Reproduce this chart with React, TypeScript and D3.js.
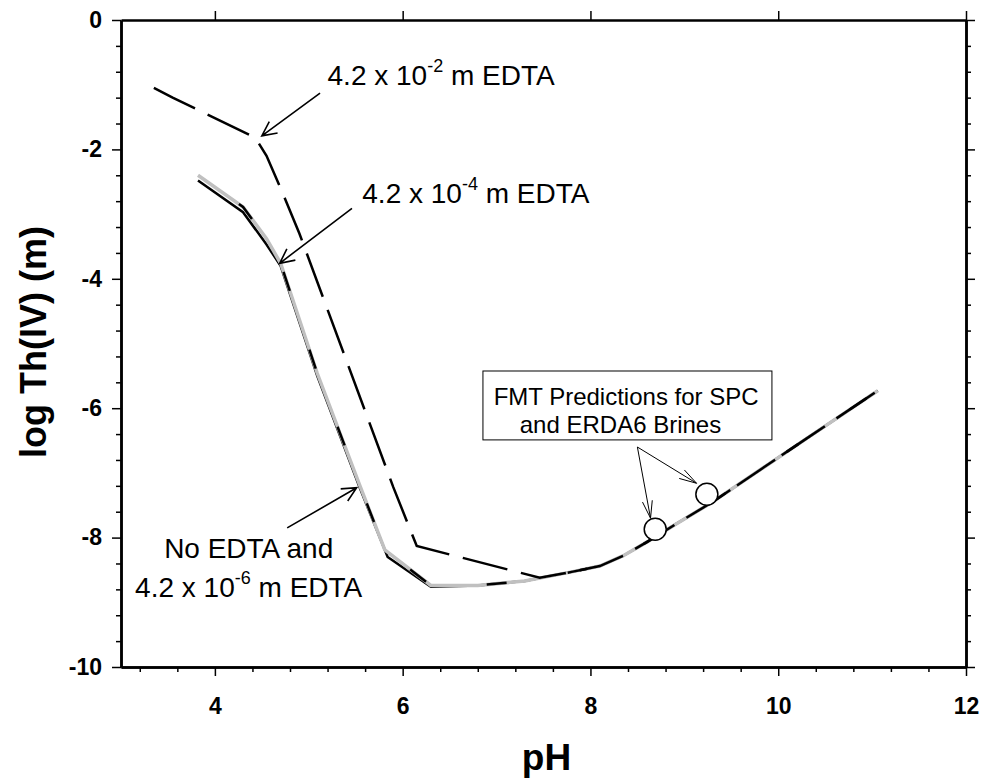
import { useEffect, useRef } from "react";
import * as d3 from "d3";

const W = 985;
const H = 780;

// No EDTA and 4.2e-6 m EDTA (grey solid + black short dash)
const phNoEdta = [3.82, 4.3, 4.55, 4.7, 5.09, 5.54, 5.81, 6.3, 6.8, 7.3, 7.8, 8.1, 8.35, 8.6, 8.9, 9.3, 10.3, 11.06];
const logNoEdta = [-2.4, -2.89, -3.38, -3.76, -5.46, -7.18, -8.19, -8.74, -8.74, -8.67, -8.53, -8.44, -8.28, -8.07, -7.8, -7.45, -6.47, -5.73];

// 4.2e-4 m EDTA (black solid)
const phEdta4 = [3.82, 4.3, 4.55, 4.7, 5.09, 5.54, 5.84, 6.3, 6.8, 7.3, 7.8, 8.1, 8.35, 8.6, 8.9, 9.3, 10.3, 11.06];
const logEdta4 = [-2.48, -2.97, -3.47, -3.8, -5.5, -7.22, -8.3, -8.76, -8.74, -8.67, -8.53, -8.44, -8.28, -8.07, -7.8, -7.45, -6.47, -5.73];

// 4.2e-2 m EDTA (black long dash)
const phEdta2 = [3.35, 3.55, 4.43, 4.55, 4.7, 4.9, 5.9, 6.15, 7.46, 7.8, 8.1, 8.35, 8.6, 8.9, 9.3, 10.3, 11.06];
const logEdta2 = [-1.05, -1.2, -1.82, -2.1, -2.6, -3.3, -7.22, -8.13, -8.62, -8.53, -8.44, -8.28, -8.07, -7.8, -7.45, -6.47, -5.73];

// FMT predictions
const phFmt = [8.69, 9.24];
const logFmt = [-7.87, -7.33];

const xTicks = [4, 6, 8, 10, 12];
const yTicks = [0, -2, -4, -6, -8, -10];

// arrows: [fromPH, fromLog, toPH, toLog]
const edtaArrows = [
  [5.12, -1.13, 4.5, -1.79],
  [5.46, -2.91, 4.69, -3.76],
  [4.77, -7.85, 5.51, -7.23],
];
const fmtArrows = [
  [8.5, -6.6, 8.64, -7.7],
  [8.5, -6.6, 9.13, -7.16],
];

function arrow(x1: number, y1: number, x2: number, y2: number, len: number, deg: number) {
  const a = Math.atan2(y2 - y1, x2 - x1);
  const t = (deg * Math.PI) / 180;
  const b1x = x2 - len * Math.cos(a - t), b1y = y2 - len * Math.sin(a - t);
  const b2x = x2 - len * Math.cos(a + t), b2y = y2 - len * Math.sin(a + t);
  return `M${x1},${y1}L${x2},${y2}M${b1x},${b1y}L${x2},${y2}L${b2x},${b2y}`;
}

export default function App() {
  const ref = useRef<SVGSVGElement>(null);

  useEffect(() => {
    if (!ref.current) return;
    const svg = d3.select(ref.current);
    svg.selectAll("*").remove();

    const margin = { top: 20, right: 19, bottom: 113, left: 121 };
    const x = d3.scaleLinear().domain([3, 12]).range([margin.left, W - margin.right]);
    const y = d3.scaleLinear().domain([-10, 0]).range([H - margin.bottom, margin.top]);

    const xMinor = d3.range(3.2, 12, 0.4).filter((v) => Math.abs(v / 2 - Math.round(v / 2)) > 0.01);
    const yMinor = d3.range(-9.6, 0, 0.4).filter((v) => Math.abs(v / 2 - Math.round(v / 2)) > 0.01);

    const font = "'Liberation Sans', Arial, sans-serif";
    const fmt = (d: any) => String(d);

    // axes
    const styleAxis = (g: any) => {
      g.select(".domain").attr("stroke-width", 2.5);
      g.selectAll(".tick line").attr("stroke-width", 1.5);
    };
    const yb = H - margin.bottom;
    const xr = W - margin.right;

    svg.append("g").attr("transform", `translate(0,${yb})`)
      .call(d3.axisBottom(x).tickValues(xMinor).tickSize(5).tickSizeOuter(0).tickFormat(() => ""))
      .call(styleAxis);
    const bx = svg.append("g").attr("transform", `translate(0,${yb})`)
      .call(d3.axisBottom(x).tickValues(xTicks).tickSize(9).tickSizeOuter(0).tickPadding(22).tickFormat(fmt))
      .call(styleAxis);
    bx.selectAll("text").attr("font-family", font).attr("font-weight", "bold").attr("font-size", 23).attr("fill", "#000");

    svg.append("g").attr("transform", `translate(0,${margin.top})`)
      .call(d3.axisTop(x).tickValues(xTicks).tickSize(9).tickSizeOuter(0).tickFormat(() => ""))
      .call(styleAxis);

    svg.append("g").attr("transform", `translate(${margin.left},0)`)
      .call(d3.axisLeft(y).tickValues(yMinor).tickSize(5).tickSizeOuter(0).tickFormat(() => ""))
      .call(styleAxis);
    const ly = svg.append("g").attr("transform", `translate(${margin.left},0)`)
      .call(d3.axisLeft(y).tickValues(yTicks).tickSize(9).tickSizeOuter(0).tickPadding(10).tickFormat(fmt))
      .call(styleAxis);
    ly.selectAll("text").attr("font-family", font).attr("font-weight", "bold").attr("font-size", 23).attr("fill", "#000");

    svg.append("g").attr("transform", `translate(${xr},0)`)
      .call(d3.axisRight(y).tickValues(yMinor).tickSize(5).tickSizeOuter(0).tickFormat(() => ""))
      .call(styleAxis);
    svg.append("g").attr("transform", `translate(${xr},0)`)
      .call(d3.axisRight(y).tickValues(yTicks).tickSize(9).tickSizeOuter(0).tickFormat(() => ""))
      .call(styleAxis);

    // axis titles
    svg.append("text")
      .attr("x", (margin.left + xr) / 2 + 3).attr("y", 770)
      .attr("text-anchor", "middle").attr("font-family", font).attr("font-weight", "bold")
      .attr("font-size", 37).text("pH");
    svg.append("text")
      .attr("transform", `translate(46,342) rotate(-90)`)
      .attr("text-anchor", "middle").attr("font-family", font).attr("font-weight", "bold")
      .attr("font-size", 36).text("log Th(IV) (m)");

    // curves
    const line = d3.line<[number, number]>().x((d) => x(d[0])).y((d) => y(d[1]));
    const pts = (px: number[], py: number[]) => px.map((v, i) => [v, py[i]] as [number, number]);

    svg.append("path").attr("d", line(pts(phEdta4, logEdta4)))
      .attr("fill", "none").attr("stroke", "#000").attr("stroke-width", 2.5);
    svg.append("path").attr("d", line(pts(phNoEdta, logNoEdta)))
      .attr("fill", "none").attr("stroke", "#c0c0c0").attr("stroke-width", 3.5);
    svg.append("path").attr("d", line(pts(phNoEdta, logNoEdta)))
      .attr("fill", "none").attr("stroke", "#000").attr("stroke-width", 2.5)
      .attr("stroke-dasharray", "20 62").attr("stroke-dashoffset", -50);
    svg.append("path").attr("d", line(pts(phEdta2, logEdta2)))
      .attr("fill", "none").attr("stroke", "#000").attr("stroke-width", 2.5)
      .attr("stroke-dasharray", "46 14");

    // arrows
    edtaArrows.forEach((a) => {
      svg.append("path").attr("d", arrow(x(a[0]), y(a[1]), x(a[2]), y(a[3]), 16, 26))
        .attr("fill", "none").attr("stroke", "#000").attr("stroke-width", 1.6);
    });
    fmtArrows.forEach((a) => {
      svg.append("path").attr("d", arrow(x(a[0]), y(a[1]), x(a[2]), y(a[3]), 18, 16))
        .attr("fill", "none").attr("stroke", "#000").attr("stroke-width", 1);
    });

    // FMT points
    svg.selectAll("circle.fmt").data(phFmt).join("circle")
      .attr("class", "fmt")
      .attr("cx", (d) => x(d)).attr("cy", (_d, i) => y(logFmt[i])).attr("r", 11)
      .attr("fill", "#fff").attr("stroke", "#000").attr("stroke-width", 1.5);

    // labels
    const label = (px: number, py: number, pre: string, sup: string, post: string, anchor = "start") => {
      const t = svg.append("text").attr("x", x(px)).attr("y", y(py))
        .attr("font-family", font).attr("font-size", 28).attr("text-anchor", anchor);
      t.append("tspan").text(pre);
      t.append("tspan").attr("dy", -13).attr("font-size", 18).text(sup);
      t.append("tspan").attr("dy", 13).text(post);
    };
    label(5.2, -1.0, "4.2 x 10", "-2", "\u00a0m EDTA");
    label(5.57, -2.83, "4.2 x 10", "-4", "\u00a0m EDTA");
    svg.append("text").attr("x", x(4.36)).attr("y", y(-8.32))
      .attr("font-family", font).attr("font-size", 28).attr("text-anchor", "middle").text("No EDTA and");
    label(4.36, -8.92, "4.2 x 10", "-6", "\u00a0m EDTA", "middle");

    // FMT box
    svg.append("rect")
      .attr("x", x(6.855)).attr("y", y(-5.425))
      .attr("width", x(9.933) - x(6.855)).attr("height", y(-6.49) - y(-5.425))
      .attr("fill", "#fff").attr("stroke", "#000").attr("stroke-width", 1);
    svg.append("text").attr("x", x(8.38)).attr("y", y(-5.95))
      .attr("font-family", font).attr("font-size", 24).attr("text-anchor", "middle")
      .text("FMT Predictions for SPC");
    svg.append("text").attr("x", x(8.32)).attr("y", y(-6.39))
      .attr("font-family", font).attr("font-size", 24).attr("text-anchor", "middle")
      .text("and ERDA6 Brines");
  }, []);

  return (
    <svg ref={ref} width={W} height={H}
      style={{ position: "absolute", left: 0, top: 0, background: "#fff" }} />
  );
}
